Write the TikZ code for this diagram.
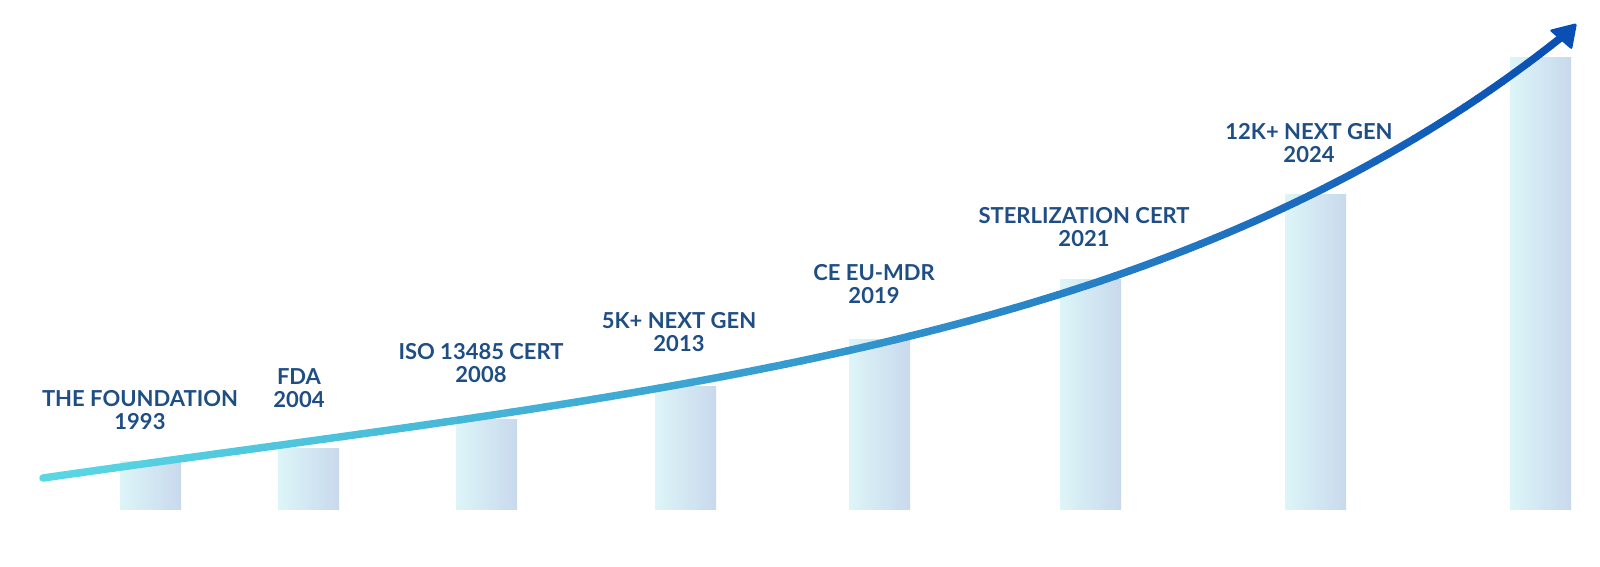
\documentclass[tikz,border=0pt]{standalone}
\usepackage{fontspec}
\setmainfont{Lato}
\definecolor{txtblue}{HTML}{1F4E84}
\definecolor{curveA}{HTML}{5AD9E4}
\definecolor{curveB}{HTML}{0A4FB4}
\definecolor{barL}{HTML}{DDF5F8}
\definecolor{barR}{HTML}{C8D9EC}
\tikzset{
  bar/.style={left color=barL, right color=barR, draw=none},
  lbl/.style={align=center, anchor=north, inner sep=0pt, text=txtblue,
    font=\fontsize{22}{23}\selectfont\bfseries},
  seg/.style={line width=7.5pt, line cap=round}
}
\begin{document}
\begin{tikzpicture}[x=1pt,y=-1pt]
\useasboundingbox (0,0) rectangle (1600,566);
% bars
\foreach \n/\xl/\top in {1/120/461, 2/278/448, 3/456/419, 4/655/386, 5/849/339, 6/1060/279, 7/1285/194, 8/1510/57}{
  \path[bar] (\xl,509) rectangle ++(61,\top-509);
  \coordinate (bar\n) at (\xl+30.5,\top);
}
% growth curve
\coordinate (p0) at (43,478);
\coordinate (p1) at (643,392);
\coordinate (p2) at (1165,353);
\coordinate (p3) at (1563,36);
\foreach \i in {0,...,100}{
  \path (p0) .. controls (p1) and (p2) .. (p3) coordinate[pos=\i/100] (q\i);
}
\foreach \i [evaluate=\i as \j using int(\i-1)] in {1,...,100}{
  \draw[seg, color=curveB!\i!curveA] (q\j) -- (q\i);
}
% arrow head
\coordinate (tip) at (1577,23);
\coordinate (hl) at (1549,30);
\coordinate (hr) at (1572,50);
\fill[curveB, rounded corners=2.5pt] (tip) -- (hl) -- (hr) -- cycle;
% labels
\node[lbl] (l1) at (140,390) {THE FOUNDATION\\1993};
\node[lbl] (l2) at (299,368) {FDA\\2004};
\node[lbl] (l3) at (481,343) {ISO 13485 CERT\\2008};
\node[lbl] (l4) at (679,312) {5K+ NEXT GEN\\2013};
\node[lbl] (l5) at (874,264) {CE EU-MDR\\2019};
\node[lbl] (l6) at (1084,207) {STERLIZATION CERT\\2021};
\node[lbl] (l7) at (1309,123) {12K+ NEXT GEN\\2024};
\end{tikzpicture}
\end{document}
